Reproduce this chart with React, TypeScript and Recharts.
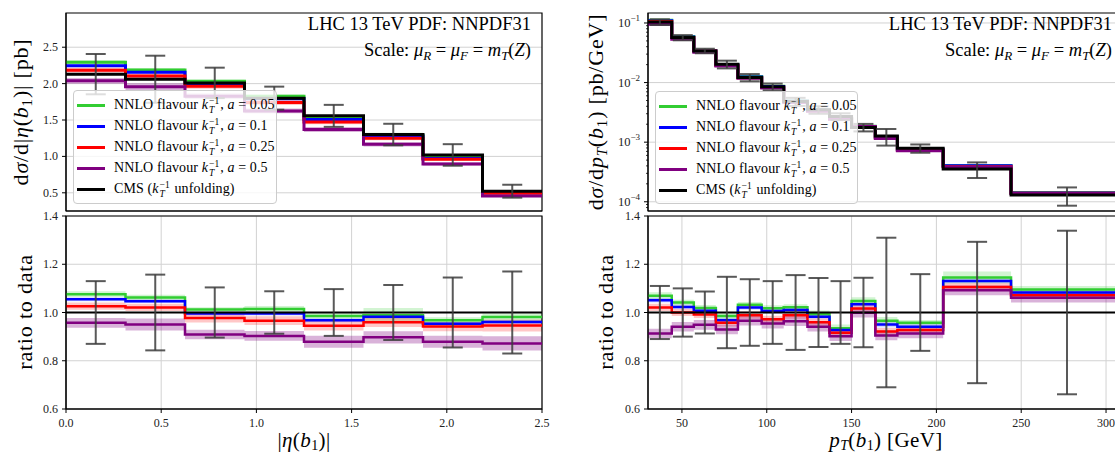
import React from "react";
import {
    ComposedChart,
    Line,
    Area,
    Scatter,
    ErrorBar,
    XAxis,
    YAxis,
    CartesianGrid,
    ReferenceLine,
    ReferenceArea,
    Legend,
} from "recharts";

// --- |eta(b1)| panel data ---
const ETA_EDGES = [0, 0.3125, 0.625, 0.9375, 1.25, 1.5625, 1.875, 2.1875, 2.5];
const ETA_CMS = [2.13, 2.06, 2.01, 1.8, 1.557, 1.3, 1.02, 0.522];
const ETA_TOP_G = [2.292, 2.188, 2.034, 1.827, 1.535, 1.286, 0.987, 0.512];
const ETA_TOP_B = [2.247, 2.157, 2.002, 1.793, 1.507, 1.277, 0.972, 0.502];
const ETA_TOP_R = [2.185, 2.103, 1.964, 1.739, 1.471, 1.248, 0.961, 0.494];
const ETA_TOP_P = [2.038, 1.957, 1.827, 1.625, 1.369, 1.166, 0.897, 0.455];
const ETA_RAT_G = [1.076, 1.062, 1.012, 1.015, 0.986, 0.989, 0.968, 0.981];
const ETA_RAT_B = [1.055, 1.047, 0.996, 0.996, 0.968, 0.982, 0.953, 0.961];
const ETA_RAT_R = [1.026, 1.021, 0.977, 0.966, 0.945, 0.96, 0.942, 0.946];
const ETA_RAT_P = [0.957, 0.95, 0.909, 0.903, 0.879, 0.897, 0.879, 0.872];
const ETA_ERR = [0.13, 0.157, 0.104, 0.088, 0.097, 0.114, 0.145, 0.17];
const ETA_BAND_G = [0.012, 0.012, 0.01, 0.012, 0.012, 0.03, 0.012, 0.015];
const ETA_BAND_B = [0.008, 0.008, 0.008, 0.008, 0.008, 0.008, 0.008, 0.008];
const ETA_BAND_R = [0.015, 0.015, 0.018, 0.018, 0.02, 0.02, 0.02, 0.025];
const ETA_BAND_P = [0.02, 0.025, 0.02, 0.02, 0.025, 0.025, 0.025, 0.03];
const ETA_TICKS = [0, 0.5, 1, 1.5, 2, 2.5];

// --- pT(b1) panel data ---
const PT_EDGES = [30, 44, 57, 70, 83, 97, 110, 124, 137, 150, 164, 177, 204, 244, 310];
const PT_CMS = [0.104, 0.0569, 0.034, 0.0203, 0.0122, 0.0085, 0.0048, 0.0035, 0.0027, 0.00177, 0.00127, 0.00079, 0.000354, 0.00013];
const PT_TOP_G = [0.1112, 0.05923, 0.03465, 0.02, 0.01259, 0.008653, 0.004906, 0.003476, 0.002525, 0.001855, 0.001227, 0.000756, 0.0004053, 0.0001424];
const PT_TOP_B = [0.1093, 0.05821, 0.03424, 0.01965, 0.01246, 0.008551, 0.004848, 0.003437, 0.002503, 0.00183, 0.001207, 0.0007434, 0.0004004, 0.0001408];
const PT_TOP_R = [0.1062, 0.0569, 0.03373, 0.01943, 0.01207, 0.008262, 0.004747, 0.00336, 0.002473, 0.0018, 0.00117, 0.0007323, 0.0003915, 0.0001394];
const PT_TOP_P = [0.09495, 0.05354, 0.03227, 0.01888, 0.01179, 0.008109, 0.004627, 0.003294, 0.002435, 0.001768, 0.001149, 0.0007213, 0.0003866, 0.0001379];
const PT_RAT_G = [1.069, 1.041, 1.019, 0.985, 1.032, 1.018, 1.022, 0.993, 0.935, 1.048, 0.966, 0.957, 1.145, 1.095];
const PT_RAT_B = [1.051, 1.023, 1.007, 0.968, 1.021, 1.006, 1.01, 0.982, 0.927, 1.034, 0.95, 0.941, 1.131, 1.083];
const PT_RAT_R = [1.021, 1.0, 0.992, 0.957, 0.989, 0.972, 0.989, 0.96, 0.916, 1.017, 0.921, 0.927, 1.106, 1.072];
const PT_RAT_P = [0.913, 0.941, 0.949, 0.93, 0.966, 0.954, 0.964, 0.941, 0.902, 0.999, 0.905, 0.913, 1.092, 1.061];
const PT_ERR = [0.11, 0.1, 0.087, 0.148, 0.138, 0.13, 0.155, 0.143, 0.13, 0.144, 0.31, 0.159, 0.293, 0.339];
const PT_BAND_G = [0.015, 0.012, 0.012, 0.012, 0.012, 0.012, 0.012, 0.015, 0.015, 0.015, 0.015, 0.012, 0.025, 0.015];
const PT_BAND_B = [0.01, 0.01, 0.01, 0.01, 0.01, 0.01, 0.01, 0.01, 0.01, 0.01, 0.012, 0.012, 0.01, 0.01];
const PT_BAND_R = [0.015, 0.015, 0.015, 0.015, 0.015, 0.015, 0.015, 0.015, 0.015, 0.015, 0.015, 0.015, 0.015, 0.015];
const PT_BAND_P = [0.02, 0.02, 0.02, 0.02, 0.02, 0.02, 0.02, 0.02, 0.02, 0.02, 0.02, 0.02, 0.02, 0.02];
const PT_TICKS = [50, 100, 150, 200, 250, 300];
const LOG_TICKS = [1e-4, 1e-3, 1e-2, 1e-1];
const LOG_TICK_EXP = ["−4", "−3", "−2", "−1"];
const LOG_MINOR = [8e-5, 9e-5, ...[1e-4, 1e-3, 1e-2].flatMap((d) => [2, 3, 4, 5, 6, 7, 8, 9].map((k) => k * d))];

const LEGEND_A = ["0.05", "0.1", "0.25", "0.5"];

// --- COLORS ---
const GREEN = "#32cd32";
const BLUE = "#0000ff";
const RED = "#ff0000";
const PURPLE = "#800080";
const SERIES = [
    { key: "g", color: GREEN, op: 0.22 },
    { key: "b", color: BLUE, op: 0.15 },
    { key: "r", color: RED, op: 0.22 },
    { key: "p", color: PURPLE, op: 0.3 },
];
const FONT = "'Liberation Serif', 'Times New Roman', serif";
const TICK_SIZE = 4;
const TICK_MARGIN = 4;

type Row = Record<string, number | number[]>;

// bin edges -> rows for stepAfter lines (last bin repeated at the closing edge)
function stepRows(edges: number[], series: Record<string, number[]>, bands: Record<string, number[]>, relative: boolean): Row[] {
    const n = edges.length - 1;
    const rows: Row[] = [];
    for (let i = 0; i <= n; i++) {
        const k = Math.min(i, n - 1);
        const row: Row = { x: edges[i] };
        for (const key of Object.keys(series)) {
            const v = series[key][k];
            row[key] = v;
            const hw = bands[key]?.[k];
            if (hw != null) row[key + "Band"] = relative ? [v * (1 - hw), v * (1 + hw)] : [v - hw, v + hw];
        }
        rows.push(row);
    }
    return rows;
}

function errRows(edges: number[], values: number[] | null, errs: number[]) {
    return errs.map((e, i) => {
        const v = values ? values[i] : 1;
        return { x: (edges[i] + edges[i + 1]) / 2, y: v, e: values ? v * e : e };
    });
}

const ETA_TOP_ROWS = stepRows(
    ETA_EDGES,
    { g: ETA_TOP_G, b: ETA_TOP_B, r: ETA_TOP_R, p: ETA_TOP_P, c: ETA_CMS },
    { g: ETA_BAND_G, b: ETA_BAND_B, r: ETA_BAND_R, p: ETA_BAND_P },
    true
);
const ETA_RAT_ROWS = stepRows(
    ETA_EDGES,
    { g: ETA_RAT_G, b: ETA_RAT_B, r: ETA_RAT_R, p: ETA_RAT_P },
    { g: ETA_BAND_G, b: ETA_BAND_B, r: ETA_BAND_R, p: ETA_BAND_P },
    false
);
const PT_TOP_ROWS = stepRows(
    PT_EDGES,
    { g: PT_TOP_G, b: PT_TOP_B, r: PT_TOP_R, p: PT_TOP_P, c: PT_CMS },
    { g: PT_BAND_G, b: PT_BAND_B, r: PT_BAND_R, p: PT_BAND_P },
    true
);
const PT_RAT_ROWS = stepRows(
    PT_EDGES,
    { g: PT_RAT_G, b: PT_RAT_B, r: PT_RAT_R, p: PT_RAT_P },
    { g: PT_BAND_G, b: PT_BAND_B, r: PT_BAND_R, p: PT_BAND_P },
    false
);

// --- small math helpers ---
function KT() {
    return (
        <span
            style={{
                display: "inline-flex",
                flexDirection: "column",
                verticalAlign: "middle",
                fontSize: 9.5,
                lineHeight: "9px",
                margin: "0 1px 0 1px",
            }}
        >
            <span>−1</span>
            <span style={{ fontStyle: "italic" }}>T</span>
        </span>
    );
}

function LegendBox() {
    const rows = [
        ...SERIES.map((s, i) => ({
            color: s.color,
            text: (
                <span>
                    NNLO flavour <i>k</i>
                    <KT />, <i>a</i> = {LEGEND_A[i]}
                </span>
            ),
        })),
        {
            color: "#000",
            text: (
                <span>
                    CMS (<i>k</i>
                    <KT /> unfolding)
                </span>
            ),
        },
    ];
    return (
        <div
            style={{
                boxSizing: "border-box",
                width: "100%",
                height: "100%",
                paddingTop: 4,
                background: "rgba(255,255,255,0.8)",
                border: "1px solid #cccccc",
                borderRadius: 4,
                fontFamily: FONT,
                fontSize: 14,
                letterSpacing: 0.1,
                color: "#000",
            }}
        >
            {rows.map((r, i) => (
                <div key={i} style={{ display: "flex", alignItems: "center", height: 21, whiteSpace: "nowrap" }}>
                    <div style={{ width: 28, height: 3, background: r.color, margin: "0 9px 0 3px", flex: "none" }} />
                    {r.text}
                </div>
            ))}
        </div>
    );
}

function XTick(props: any) {
    const { x, y, payload, fmt } = props;
    return (
        <text x={x} y={y} dy={9} textAnchor="middle" fontFamily={FONT} fontSize={12} fill="#222">
            {fmt(payload.value)}
        </text>
    );
}

function YTick(props: any) {
    const { x, y, payload } = props;
    return (
        <text x={x} y={y} dy={4} textAnchor="end" fontFamily={FONT} fontSize={12} fill="#222">
            {payload.value.toFixed(1)}
        </text>
    );
}

// log axis: draws its own tick marks (long for decades, short for minors) and labels decades only
function LogTick(props: any) {
    const { x, y, payload } = props;
    const axisX = x + TICK_SIZE + TICK_MARGIN;
    const idx = LOG_TICKS.findIndex((t) => Math.abs(t - payload.value) / t < 1e-6);
    if (idx < 0) {
        return <line x1={axisX - 2} x2={axisX} y1={y} y2={y} stroke="#000" strokeWidth={0.8} />;
    }
    return (
        <g>
            <line x1={axisX - TICK_SIZE} x2={axisX} y1={y} y2={y} stroke="#000" strokeWidth={1} />
            <text x={x} y={y} dy={4} textAnchor="end" fontFamily={FONT} fontSize={12.5} fill="#222">
                10
                <tspan dy={-6} fontSize={9}>
                    {LOG_TICK_EXP[idx]}
                </tspan>
            </text>
        </g>
    );
}

type PanelProps = {
    left: number;
    top: number;
    height: number;
    margin: { top: number; right: number; bottom: number; left: number };
    rows: Row[];
    errs: { x: number; y: number; e: number }[];
    xDomain: [number, number];
    xTicks: number[];
    xFmt: (v: number) => string;
    yDomain: [number, number];
    yTicks: number[];
    yWidth: number;
    log?: boolean;
    ratio?: boolean;
    showX?: boolean;
    legendAt?: { left: number; top: number; width: number; height: number };
};

function Panel(p: PanelProps) {
    const lw = p.ratio ? 2.5 : 3;
    return (
        <div style={{ position: "absolute", left: p.left, top: p.top }}>
            <ComposedChart width={560} height={p.height} data={p.rows} margin={p.margin}>
                <CartesianGrid stroke="#d2d2d2" strokeWidth={1} horizontalValues={p.yTicks} verticalValues={p.xTicks} />
                <XAxis
                    dataKey="x"
                    type="number"
                    domain={p.xDomain}
                    ticks={p.xTicks}
                    allowDataOverflow
                    height={p.showX ? 30 : 4}
                    tick={p.showX ? <XTick fmt={p.xFmt} /> : false}
                    tickSize={TICK_SIZE}
                    tickMargin={5}
                    tickLine={{ stroke: "#000" }}
                    axisLine={{ stroke: "#000" }}
                />
                <YAxis
                    type="number"
                    scale={p.log ? "log" : "linear"}
                    domain={p.yDomain}
                    ticks={p.log ? [...p.yTicks, ...LOG_MINOR] : p.yTicks}
                    interval={0}
                    allowDataOverflow
                    width={p.yWidth}
                    tick={p.log ? <LogTick /> : <YTick />}
                    tickSize={TICK_SIZE}
                    tickMargin={TICK_MARGIN}
                    tickLine={p.log ? false : { stroke: "#000" }}
                    axisLine={{ stroke: "#000" }}
                />
                {SERIES.map((s) => (
                    <Area
                        key={s.key + "band"}
                        dataKey={s.key + "Band"}
                        type="stepAfter"
                        stroke="none"
                        fill={s.color}
                        fillOpacity={s.op}
                        isAnimationActive={false}
                    />
                ))}
                {SERIES.map((s) => (
                    <Line
                        key={s.key}
                        dataKey={s.key}
                        type="stepAfter"
                        stroke={s.color}
                        strokeWidth={lw}
                        dot={false}
                        isAnimationActive={false}
                    />
                ))}
                {p.ratio ? (
                    <ReferenceLine y={1} stroke="#000" strokeWidth={2} />
                ) : (
                    <Line dataKey="c" type="stepAfter" stroke="#000" strokeWidth={3} dot={false} isAnimationActive={false} />
                )}
                <Scatter data={p.errs} dataKey="y" shape={() => <g />} isAnimationActive={false}>
                    <ErrorBar
                        dataKey="e"
                        direction="y"
                        width={10}
                        stroke="#3c3c3c"
                        strokeOpacity={0.85}
                        strokeWidth={2}
                        isAnimationActive={false}
                    />
                </Scatter>
                <ReferenceArea
                    x1={p.xDomain[0]}
                    x2={p.xDomain[1]}
                    y1={p.yDomain[0]}
                    y2={p.yDomain[1]}
                    fill="none"
                    stroke="#000"
                    strokeWidth={1.2}
                />
                {p.legendAt && (
                    <Legend
                        layout="vertical"
                        align="center"
                        verticalAlign="middle"
                        wrapperStyle={{ position: "absolute", ...p.legendAt }}
                        content={() => <LegendBox />}
                    />
                )}
            </ComposedChart>
        </div>
    );
}

function Labels() {
    const t = { fontFamily: FONT, fill: "#000" };
    const it = { fontStyle: "italic" as const };
    const titles = [
        { x: 531, label: "left" },
        { x: 1112, label: "right" },
    ];
    return (
        <svg width={1115} height={454} style={{ position: "absolute", left: 0, top: 0, pointerEvents: "none" }}>
            {titles.map((tt) => (
                <g key={tt.label}>
                    <text x={tt.x} y={30} textAnchor="end" fontSize={18.5} {...t}>
                        LHC 13 TeV PDF: NNPDF31
                    </text>
                    <text x={tt.x} y={56} textAnchor="end" fontSize={18.5} {...t}>
                        Scale:{" "}
                        <tspan {...it}>μ</tspan>
                        <tspan {...it} fontSize={13} dy={4}>R</tspan>
                        <tspan dy={-4}>{" = "}</tspan>
                        <tspan {...it}>μ</tspan>
                        <tspan {...it} fontSize={13} dy={4}>F</tspan>
                        <tspan dy={-4}>{" = "}</tspan>
                        <tspan {...it}>m</tspan>
                        <tspan {...it} fontSize={13} dy={4}>T</tspan>
                        <tspan dy={-4}>(</tspan>
                        <tspan {...it}>Z</tspan>)
                    </text>
                </g>
            ))}
            {/* y labels */}
            <text transform="translate(28,112) rotate(-90)" textAnchor="middle" fontSize={22} letterSpacing={0.8} {...t}>
                d<tspan {...it}>σ</tspan>/d|<tspan {...it}>η</tspan>(<tspan {...it}>b</tspan>
                <tspan fontSize={15} dy={4}>1</tspan>
                <tspan dy={-4}>)| [pb]</tspan>
            </text>
            <text transform="translate(32,312) rotate(-90)" textAnchor="middle" fontSize={22} letterSpacing={0.8} {...t}>
                ratio to data
            </text>
            <text transform="translate(603,112) rotate(-90)" textAnchor="middle" fontSize={22} letterSpacing={0.8} {...t}>
                d<tspan {...it}>σ</tspan>/d<tspan {...it}>p</tspan>
                <tspan {...it} fontSize={15} dy={4}>T</tspan>
                <tspan dy={-4}>(</tspan>
                <tspan {...it}>b</tspan>
                <tspan fontSize={15} dy={4}>1</tspan>
                <tspan dy={-4}>) [pb/GeV]</tspan>
            </text>
            <text transform="translate(613,312) rotate(-90)" textAnchor="middle" fontSize={22} letterSpacing={0.8} {...t}>
                ratio to data
            </text>
            {/* x labels */}
            <text x={304} y={447} textAnchor="middle" fontSize={21} letterSpacing={0.4} {...t}>
                |<tspan {...it}>η</tspan>(<tspan {...it}>b</tspan>
                <tspan fontSize={14} dy={3}>1</tspan>
                <tspan dy={-3}>)|</tspan>
            </text>
            <text x={886} y={447} textAnchor="middle" fontSize={21} letterSpacing={0.4} {...t}>
                <tspan {...it}>p</tspan>
                <tspan {...it} fontSize={14} dy={3}>T</tspan>
                <tspan dy={-3}>(</tspan>
                <tspan {...it}>b</tspan>
                <tspan fontSize={14} dy={3}>1</tspan>
                <tspan dy={-3}>) [GeV]</tspan>
            </text>
        </svg>
    );
}

export default function App() {
    const fmt1 = (v: number) => v.toFixed(1);
    const fmt0 = (v: number) => String(v);
    return (
        <div
            style={{
                position: "fixed",
                left: 0,
                top: 0,
                width: 1115,
                height: 454,
                overflow: "hidden",
                background: "#fff",
            }}
        >
            <Panel
                left={0}
                top={0}
                height={222}
                margin={{ top: 13, right: 18, bottom: 7, left: 0 }}
                rows={ETA_TOP_ROWS}
                errs={errRows(ETA_EDGES, ETA_CMS, ETA_ERR)}
                xDomain={[0, 2.5]}
                xTicks={ETA_TICKS}
                xFmt={fmt1}
                yDomain={[0.25, 2.97]}
                yTicks={[0.5, 1, 1.5, 2, 2.5]}
                yWidth={66}
                legendAt={{ left: 73, top: 90, width: 204, height: 114 }}
            />
            <Panel
                left={0}
                top={200}
                height={254}
                margin={{ top: 16, right: 18, bottom: 15, left: 0 }}
                rows={ETA_RAT_ROWS}
                errs={errRows(ETA_EDGES, null, ETA_ERR)}
                xDomain={[0, 2.5]}
                xTicks={ETA_TICKS}
                xFmt={fmt1}
                yDomain={[0.6, 1.4]}
                yTicks={[0.6, 0.8, 1.0, 1.2, 1.4]}
                yWidth={66}
                ratio
                showX
            />
            <Panel
                left={580}
                top={0}
                height={222}
                margin={{ top: 13, right: 17, bottom: 7, left: 0 }}
                rows={PT_TOP_ROWS}
                errs={errRows(PT_EDGES, PT_CMS, PT_ERR)}
                xDomain={[30, 310]}
                xTicks={PT_TICKS}
                xFmt={fmt0}
                yDomain={[7e-5, 0.147]}
                yTicks={LOG_TICKS}
                yWidth={68}
                log
                legendAt={{ left: 75, top: 91, width: 203, height: 113 }}
            />
            <Panel
                left={580}
                top={200}
                height={254}
                margin={{ top: 16, right: 17, bottom: 15, left: 0 }}
                rows={PT_RAT_ROWS}
                errs={errRows(PT_EDGES, null, PT_ERR)}
                xDomain={[30, 310]}
                xTicks={PT_TICKS}
                xFmt={fmt0}
                yDomain={[0.6, 1.4]}
                yTicks={[0.6, 0.8, 1.0, 1.2, 1.4]}
                yWidth={68}
                ratio
                showX
            />
            <Labels />
        </div>
    );
}
